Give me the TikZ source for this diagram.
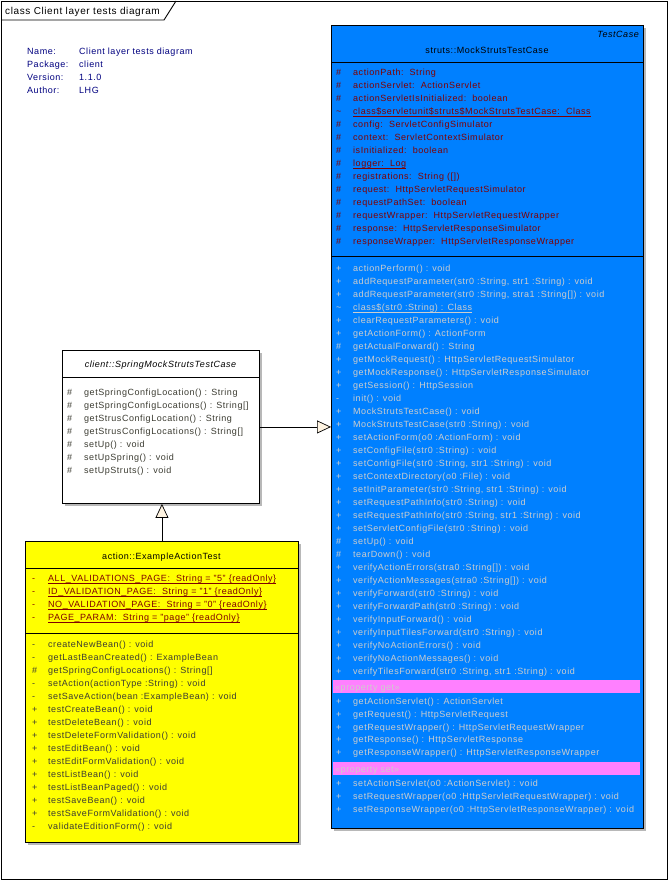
\documentclass[tikz,border=0pt]{standalone}
\usepackage{fontspec}
\setmainfont{Liberation Sans}[LetterSpace=6]
\usetikzlibrary{arrows.meta,shadows}
\definecolor{mockblue}{RGB}{0,128,255}
\definecolor{attrred}{RGB}{128,0,0}
\definecolor{methgray}{RGB}{205,205,205}
\definecolor{infonavy}{RGB}{0,0,128}
\definecolor{examyellow}{RGB}{255,255,0}
\definecolor{propbar}{RGB}{255,128,255}
\definecolor{tipcream}{RGB}{255,244,226}
\definecolor{membergray}{RGB}{60,60,50}
\tikzset{
  every node/.style={font=\fontsize{9}{10}\selectfont},
  classbox/.style={draw=black, line width=0.9pt, anchor=north west, inner sep=0pt,
    drop shadow={shadow xshift=3pt, shadow yshift=-3pt, fill=black!28, opacity=1}},
  member/.style={anchor=base west, inner sep=0pt},
  header/.style={anchor=base, inner sep=0pt},
  info/.style={anchor=base west, inner sep=0pt, text=infonavy},
  inherit/.style={line width=0.7pt, -{Triangle[length=14pt, width=13pt, fill=tipcream]}}
}
\begin{document}
\begin{tikzpicture}[x=1pt,y=-1pt]
  \useasboundingbox (0,0) rectangle (669,881);
  \fill[white] (0,0) rectangle (669,881);
  \draw[line width=0.9pt] (1,1) rectangle (667,879);
  \draw[line width=0.9pt] (1,20) -- (164,20) -- (176,1);
  \node[member, font=\fontsize{10}{11}\selectfont] (title) at (5,14.5) {class Client layer tests diagram};
  \draw
    (27,54.5) node[info] (namek){Name:}
    (79,54.5) node[info] (namev){Client layer tests diagram}
    (27,67.5) node[info] (packk){Package:}
    (79,67.5) node[info] (packv){client}
    (27,80.5) node[info] (verk){Version:}
    (79,80.5) node[info] (verv){1.1.0}
    (27,93.5) node[info] (authk){Author:}
    (79,93.5) node[info] (authv){LHG};
  \node[classbox, fill=mockblue, minimum width=312pt, minimum height=803pt] (mock) at (331,25) {};
  \draw[line width=0.9pt] (mock.west |- 0,62) -- (mock.east |- 0,62);
  \draw[line width=0.9pt] (mock.west |- 0,256) -- (mock.east |- 0,256);
  \node[anchor=base east, inner sep=0pt, font=\fontsize{9}{10}\selectfont\itshape] (mockstereo) at (639,37.5) {TestCase};
  \node[header] (mockname) at (487,53.5) {struts::MockStrutsTestCase};
  \foreach \v/\t [count=\i] in {
      \#/{actionPath:\ \ String},
      \#/{actionServlet:\ \ ActionServlet},
      \#/{actionServletIsInitialized:\ \ boolean},
      \textasciitilde/{\underline{\smash{class\$servletunit\$struts\$MockStrutsTestCase:\ \ Class}}},
      \#/{config:\ \ ServletConfigSimulator},
      \#/{context:\ \ ServletContextSimulator},
      \#/{isInitialized:\ \ boolean},
      \#/{\underline{\smash{logger:\ \ Log}}},
      \#/{registrations:\ \ String ([])},
      \#/{request:\ \ HttpServletRequestSimulator},
      \#/{requestPathSet:\ \ boolean},
      \#/{requestWrapper:\ \ HttpServletRequestWrapper},
      \#/{response:\ \ HttpServletResponseSimulator},
      \#/{responseWrapper:\ \ HttpServletResponseWrapper}}
  {
    \node[member, text=attrred] (mocka\i v) at (336,{75.5+13*(\i-1)}) {\v};
    \node[member, text=attrred] (mocka\i) at (353,{75.5+13*(\i-1)}) {\t};
  }
  \foreach \v/\t [count=\i] in {
      +/{actionPerform() : void},
      +/{addRequestParameter(str0 :String, str1 :String) : void},
      +/{addRequestParameter(str0 :String, stra1 :String[]) : void},
      \textasciitilde/{\underline{\smash{class\$(str0 :String) : Class}}},
      +/{clearRequestParameters() : void},
      +/{getActionForm() : ActionForm},
      \#/{getActualForward() : String},
      +/{getMockRequest() : HttpServletRequestSimulator},
      +/{getMockResponse() : HttpServletResponseSimulator},
      +/{getSession() : HttpSession},
      -/{init() : void},
      +/{MockStrutsTestCase() : void},
      +/{MockStrutsTestCase(str0 :String) : void},
      +/{setActionForm(o0 :ActionForm) : void},
      +/{setConfigFile(str0 :String) : void},
      +/{setConfigFile(str0 :String, str1 :String) : void},
      +/{setContextDirectory(o0 :File) : void},
      +/{setInitParameter(str0 :String, str1 :String) : void},
      +/{setRequestPathInfo(str0 :String) : void},
      +/{setRequestPathInfo(str0 :String, str1 :String) : void},
      +/{setServletConfigFile(str0 :String) : void},
      \#/{setUp() : void},
      \#/{tearDown() : void},
      +/{verifyActionErrors(stra0 :String[]) : void},
      +/{verifyActionMessages(stra0 :String[]) : void},
      +/{verifyForward(str0 :String) : void},
      +/{verifyForwardPath(str0 :String) : void},
      +/{verifyInputForward() : void},
      +/{verifyInputTilesForward(str0 :String) : void},
      +/{verifyNoActionErrors() : void},
      +/{verifyNoActionMessages() : void},
      +/{verifyTilesForward(str0 :String, str1 :String) : void}}
  {
    \node[member, text=methgray] (mockm\i v) at (336,{271.5+13*(\i-1)}) {\v};
    \node[member, text=methgray] (mockm\i) at (353,{271.5+13*(\i-1)}) {\t};
  }
  \fill[propbar] (333,680) rectangle (640,693);
  \node[member, text=methgray] (propget) at (335,690) {«property get»};
  \foreach \t [count=\i] in {
      {getActionServlet() : ActionServlet},
      {getRequest() : HttpServletRequest},
      {getRequestWrapper() : HttpServletRequestWrapper},
      {getResponse() : HttpServletResponse},
      {getResponseWrapper() : HttpServletResponseWrapper}}
  {
    \node[member, text=methgray] (mockg\i v) at (336,{704.5+12.8*(\i-1)}) {+};
    \node[member, text=methgray] (mockg\i) at (353,{704.5+12.8*(\i-1)}) {\t};
  }
  \fill[propbar] (333,762) rectangle (640,775);
  \node[member, text=methgray] (propset) at (335,772) {«property set»};
  \foreach \t [count=\i] in {
      {setActionServlet(o0 :ActionServlet) : void},
      {setRequestWrapper(o0 :HttpServletRequestWrapper) : void},
      {setResponseWrapper(o0 :HttpServletResponseWrapper) : void}}
  {
    \node[member, text=methgray] (mocks\i v) at (336,{786.5+13*(\i-1)}) {+};
    \node[member, text=methgray] (mocks\i) at (353,{786.5+13*(\i-1)}) {\t};
  }
  \node[classbox, fill=white, minimum width=197pt, minimum height=153pt] (spring) at (62,350) {};
  \draw[line width=0.9pt] (spring.west |- 0,377) -- (spring.east |- 0,377);
  \node[header, font=\fontsize{9}{10}\selectfont\itshape] (springname) at (160.5,367.5) {client::SpringMockStrutsTestCase};
  \foreach \t [count=\i] in {
      {getSpringConfigLocation() : String},
      {getSpringConfigLocations() : String[]},
      {getStrusConfigLocation() : String},
      {getStrusConfigLocations() : String[]},
      {setUp() : void},
      {setUpSpring() : void},
      {setUpStruts() : void}}
  {
    \node[member, text=membergray] (springm\i v) at (67,{395.5+13*(\i-1)}) {\#};
    \node[member, text=membergray] (springm\i) at (84,{395.5+13*(\i-1)}) {\t};
  }
  \node[classbox, fill=examyellow, minimum width=273pt, minimum height=301pt] (example) at (25,541) {};
  \draw[line width=0.9pt] (example.west |- 0,568) -- (example.east |- 0,568);
  \draw[line width=0.9pt] (example.west |- 0,633) -- (example.east |- 0,633);
  \node[header] (examplename) at (161.5,559.5) {action::ExampleActionTest};
  \foreach \t [count=\i] in {
      {ALL\_VALIDATIONS\_PAGE:\ \ String = "5" \{readOnly\}},
      {ID\_VALIDATION\_PAGE:\ \ String = "1" \{readOnly\}},
      {NO\_VALIDATION\_PAGE:\ \ String = "0" \{readOnly\}},
      {PAGE\_PARAM:\ \ String = "page" \{readOnly\}}}
  {
    \node[member, text=attrred] (examplea\i v) at (32,{581.5+13*(\i-1)}) {-};
    \node[member, text=attrred] (examplea\i) at (48,{581.5+13*(\i-1)}) {\underline{\smash{\t}}};
  }
  \foreach \v/\t [count=\i] in {
      -/{createNewBean() : void},
      -/{getLastBeanCreated() : ExampleBean},
      \#/{getSpringConfigLocations() : String[]},
      -/{setAction(actionType :String) : void},
      -/{setSaveAction(bean :ExampleBean) : void},
      +/{testCreateBean() : void},
      +/{testDeleteBean() : void},
      +/{testDeleteFormValidation() : void},
      +/{testEditBean() : void},
      +/{testEditFormValidation() : void},
      +/{testListBean() : void},
      +/{testListBeanPaged() : void},
      +/{testSaveBean() : void},
      +/{testSaveFormValidation() : void},
      -/{validateEditionForm() : void}}
  {
    \node[member, text=membergray] (examplem\i v) at (32,{647.5+13*(\i-1)}) {\v};
    \node[member, text=membergray] (examplem\i) at (48,{647.5+13*(\i-1)}) {\t};
  }
  \draw[inherit] (spring.east) -- (spring.east -| mock.west);
  \draw[inherit] (example.north) -- (example.north |- spring.south);
\end{tikzpicture}
\end{document}
